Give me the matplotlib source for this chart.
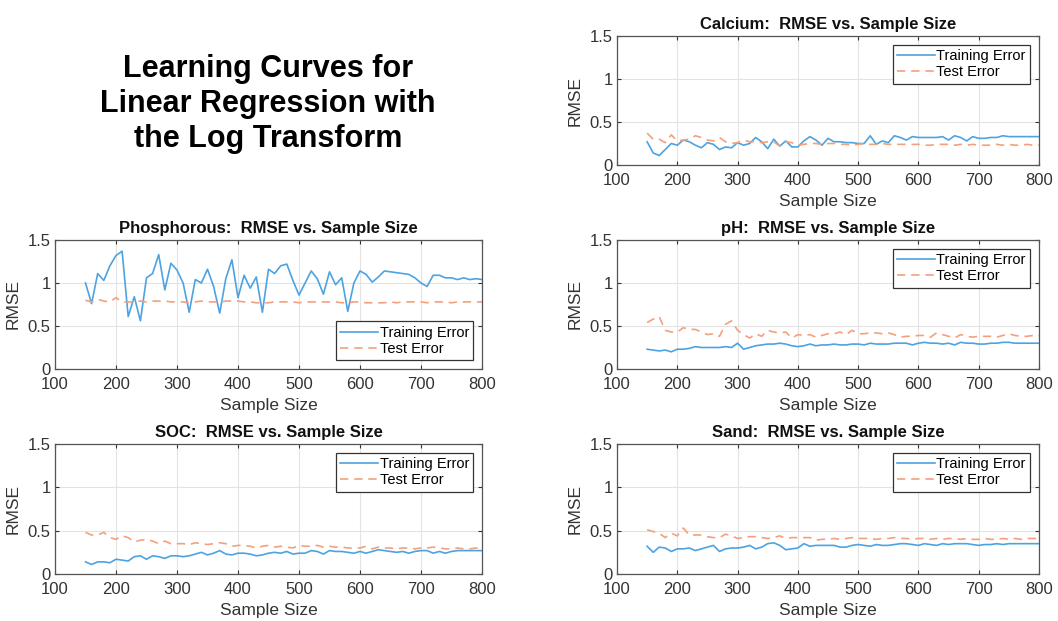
import numpy as np
import matplotlib
matplotlib.use('Agg')
import matplotlib.pyplot as plt

plt.rcParams['font.family'] = ['Liberation Sans', 'DejaVu Sans']

# sample sizes 150..800 step 10
sample_size = list(range(150, 801, 10))

phos_train = [1.00, 0.76, 1.11, 1.03, 1.20, 1.32, 1.37, 0.61, 0.84, 0.56,
              1.06, 1.11, 1.33, 0.92, 1.23, 1.15, 1.00, 0.66, 1.04, 1.00,
              1.16, 0.96, 0.65, 1.05, 1.27, 0.83, 1.09, 0.94, 1.07, 0.66,
              1.16, 1.11, 1.20, 1.22, 1.03, 0.86, 1.00, 1.14, 1.05, 0.87,
              1.13, 0.98, 1.06, 0.67, 1.00, 1.14, 1.10, 1.01, 1.07, 1.14,
              1.13, 1.12, 1.11, 1.10, 1.06, 1.00, 0.96, 1.09, 1.09, 1.06,
              1.06, 1.04, 1.06, 1.04, 1.05, 1.04]
phos_test = [0.80, 0.78, 0.81, 0.79, 0.78, 0.83, 0.78, 0.78, 0.78, 0.79,
             0.78, 0.79, 0.79, 0.79, 0.78, 0.78, 0.78, 0.77, 0.78, 0.79,
             0.78, 0.78, 0.78, 0.79, 0.79, 0.79, 0.78, 0.78, 0.77, 0.77,
             0.77, 0.78, 0.78, 0.78, 0.78, 0.77, 0.78, 0.78, 0.78, 0.78,
             0.78, 0.78, 0.77, 0.77, 0.78, 0.78, 0.77, 0.77, 0.77, 0.77,
             0.78, 0.77, 0.78, 0.78, 0.78, 0.78, 0.77, 0.78, 0.78, 0.78,
             0.77, 0.78, 0.78, 0.78, 0.78, 0.78]

ca_train = [0.27, 0.14, 0.11, 0.18, 0.25, 0.23, 0.29, 0.27, 0.23, 0.20,
            0.26, 0.24, 0.18, 0.21, 0.20, 0.26, 0.23, 0.25, 0.32, 0.27,
            0.19, 0.30, 0.22, 0.28, 0.21, 0.21, 0.28, 0.33, 0.29, 0.23,
            0.31, 0.27, 0.27, 0.26, 0.26, 0.25, 0.25, 0.34, 0.24, 0.28,
            0.26, 0.34, 0.32, 0.29, 0.33, 0.32, 0.32, 0.32, 0.32, 0.33,
            0.29, 0.34, 0.32, 0.28, 0.33, 0.31, 0.31, 0.32, 0.32, 0.34,
            0.33, 0.33, 0.33, 0.33, 0.33, 0.33]
ca_test = [0.37, 0.30, 0.30, 0.26, 0.35, 0.28, 0.29, 0.30, 0.34, 0.32,
           0.29, 0.28, 0.32, 0.27, 0.25, 0.26, 0.29, 0.27, 0.27, 0.26,
           0.27, 0.27, 0.22, 0.27, 0.26, 0.23, 0.24, 0.25, 0.25, 0.24,
           0.25, 0.25, 0.24, 0.24, 0.23, 0.24, 0.25, 0.24, 0.24, 0.25,
           0.24, 0.24, 0.24, 0.24, 0.24, 0.24, 0.23, 0.23, 0.24, 0.24,
           0.24, 0.23, 0.24, 0.23, 0.24, 0.23, 0.23, 0.23, 0.24, 0.23,
           0.24, 0.23, 0.23, 0.24, 0.23, 0.23]

ph_train = [0.23, 0.22, 0.21, 0.22, 0.20, 0.23, 0.23, 0.24, 0.26, 0.25,
            0.25, 0.25, 0.25, 0.26, 0.25, 0.30, 0.23, 0.25, 0.27, 0.28,
            0.29, 0.29, 0.30, 0.29, 0.27, 0.26, 0.27, 0.29, 0.27, 0.28,
            0.28, 0.29, 0.28, 0.28, 0.29, 0.29, 0.28, 0.30, 0.29, 0.29,
            0.29, 0.30, 0.30, 0.30, 0.28, 0.30, 0.31, 0.30, 0.30, 0.29,
            0.30, 0.28, 0.31, 0.30, 0.30, 0.29, 0.29, 0.30, 0.30, 0.31,
            0.31, 0.30, 0.30, 0.30, 0.30, 0.30]
ph_test = [0.54, 0.58, 0.61, 0.45, 0.43, 0.43, 0.48, 0.46, 0.46, 0.43,
           0.40, 0.41, 0.38, 0.52, 0.56, 0.45, 0.40, 0.36, 0.41, 0.38,
           0.45, 0.43, 0.42, 0.43, 0.36, 0.40, 0.39, 0.40, 0.37, 0.39,
           0.41, 0.41, 0.43, 0.40, 0.45, 0.41, 0.41, 0.42, 0.42, 0.41,
           0.42, 0.40, 0.37, 0.38, 0.38, 0.39, 0.39, 0.37, 0.42, 0.40,
           0.38, 0.36, 0.40, 0.38, 0.37, 0.38, 0.38, 0.38, 0.37, 0.39,
           0.41, 0.39, 0.38, 0.38, 0.39, 0.39]

soc_train = [0.14, 0.11, 0.14, 0.14, 0.13, 0.17, 0.16, 0.15, 0.20, 0.21,
             0.17, 0.21, 0.20, 0.18, 0.21, 0.21, 0.20, 0.21, 0.23, 0.25,
             0.22, 0.24, 0.27, 0.23, 0.22, 0.24, 0.24, 0.23, 0.21, 0.22,
             0.24, 0.25, 0.24, 0.26, 0.23, 0.24, 0.24, 0.27, 0.26, 0.23,
             0.27, 0.26, 0.26, 0.25, 0.24, 0.26, 0.24, 0.26, 0.28, 0.27,
             0.26, 0.25, 0.26, 0.24, 0.26, 0.27, 0.27, 0.24, 0.26, 0.24,
             0.26, 0.27, 0.27, 0.27, 0.27, 0.27]
soc_test = [0.48, 0.45, 0.45, 0.48, 0.42, 0.40, 0.44, 0.42, 0.37, 0.39,
            0.40, 0.38, 0.35, 0.38, 0.35, 0.35, 0.35, 0.34, 0.36, 0.35,
            0.34, 0.35, 0.36, 0.35, 0.32, 0.33, 0.33, 0.32, 0.30, 0.32,
            0.33, 0.31, 0.32, 0.31, 0.30, 0.33, 0.32, 0.32, 0.33, 0.31,
            0.32, 0.31, 0.31, 0.30, 0.30, 0.30, 0.32, 0.29, 0.31, 0.30,
            0.30, 0.29, 0.30, 0.30, 0.29, 0.30, 0.30, 0.31, 0.30, 0.29,
            0.29, 0.30, 0.29, 0.29, 0.30, 0.30]

sand_train = [0.32, 0.25, 0.31, 0.30, 0.26, 0.29, 0.29, 0.30, 0.27, 0.29,
              0.31, 0.33, 0.26, 0.29, 0.30, 0.30, 0.31, 0.33, 0.29, 0.31,
              0.35, 0.36, 0.33, 0.28, 0.29, 0.30, 0.35, 0.32, 0.33, 0.33,
              0.33, 0.33, 0.31, 0.31, 0.33, 0.34, 0.33, 0.32, 0.34, 0.33,
              0.33, 0.34, 0.35, 0.35, 0.34, 0.33, 0.35, 0.34, 0.33, 0.35,
              0.34, 0.35, 0.35, 0.35, 0.34, 0.33, 0.34, 0.34, 0.35, 0.34,
              0.35, 0.35, 0.35, 0.35, 0.35, 0.35]
sand_test = [0.51, 0.49, 0.47, 0.42, 0.47, 0.44, 0.53, 0.45, 0.45, 0.45,
             0.43, 0.42, 0.42, 0.46, 0.44, 0.41, 0.42, 0.43, 0.43, 0.42,
             0.41, 0.42, 0.44, 0.41, 0.42, 0.42, 0.42, 0.42, 0.39, 0.40,
             0.40, 0.41, 0.40, 0.41, 0.42, 0.41, 0.41, 0.41, 0.40, 0.41,
             0.41, 0.42, 0.41, 0.41, 0.40, 0.41, 0.41, 0.40, 0.41, 0.40,
             0.41, 0.41, 0.40, 0.41, 0.40, 0.40, 0.41, 0.40, 0.40, 0.41,
             0.40, 0.41, 0.40, 0.41, 0.41, 0.41]

titles = ['Calcium:  RMSE vs. Sample Size', 'Phosphorous:  RMSE vs. Sample Size',
          'pH:  RMSE vs. Sample Size', 'SOC:  RMSE vs. Sample Size',
          'Sand:  RMSE vs. Sample Size']

W, H = 1058, 621
fig = plt.figure(figsize=(W / 100, H / 100), dpi=100)

def box(l, t, r, b):
    return [l / W, 1 - b / H, (r - l) / W, (b - t) / H]

# axes rectangles in pixels: left, top, right, bottom
rects = [box(617, 36, 1039, 165), box(55, 240, 482, 369),
         box(617, 240, 1039, 369), box(55, 444, 482, 574),
         box(617, 444, 1039, 574)]
series = [(ca_train, ca_test), (phos_train, phos_test), (ph_train, ph_test),
          (soc_train, soc_test), (sand_train, sand_test)]
legend_loc = ['upper right', 'lower right', 'upper right', 'upper right', 'upper right']

blue = '#4da3e2'
orange = '#f4a07c'
dark = '#333333'

for rect, (tr, te), title, loc in zip(rects, series, titles, legend_loc):
    ax = fig.add_axes(rect)
    ax.plot(sample_size, tr, color=blue, lw=1.2, label='Training Error')
    ax.plot(sample_size, te, color=orange, lw=1.2, ls=(0, (5, 3.5)), label='Test Error')
    ax.set_xlim(100, 800)
    ax.set_ylim(0, 1.5)
    ax.set_xticks(range(100, 801, 100))
    ax.set_yticks([0, 0.5, 1, 1.5])
    ax.set_yticklabels(['0', '0.5', '1', '1.5'])
    ax.grid(True, color='#e3e3e3', lw=0.8)
    ax.set_axisbelow(True)
    ax.tick_params(direction='in', top=True, right=True, length=3,
                   labelsize=12, colors=dark)
    ax.tick_params(axis='x', pad=6)
    ax.tick_params(axis='y', pad=3)
    for s in ax.spines.values():
        s.set_color('#555555')
        s.set_linewidth(0.9)
    ax.set_xlabel('Sample Size', fontsize=12.5, color=dark, labelpad=4)
    ax.set_ylabel('RMSE', fontsize=12.5, color=dark, labelpad=5)
    ax.set_title(title, fontsize=12, fontweight='bold', color='#111111', pad=5)
    leg = ax.legend(loc=loc, fontsize=10.5, fancybox=False, framealpha=1,
                    edgecolor='#333333', handlelength=2.6, handletextpad=0.1,
                    borderpad=0.3, labelspacing=0.15, borderaxespad=0.6)
    leg.get_frame().set_linewidth(0.9)

fig.text(268 / W, 1 - 104 / H, 'Learning Curves for\nLinear Regression with\nthe Log Transform',
         ha='center', va='center', fontsize=22, fontweight='bold', linespacing=1.2)

fig.savefig('out.png', dpi=100)
